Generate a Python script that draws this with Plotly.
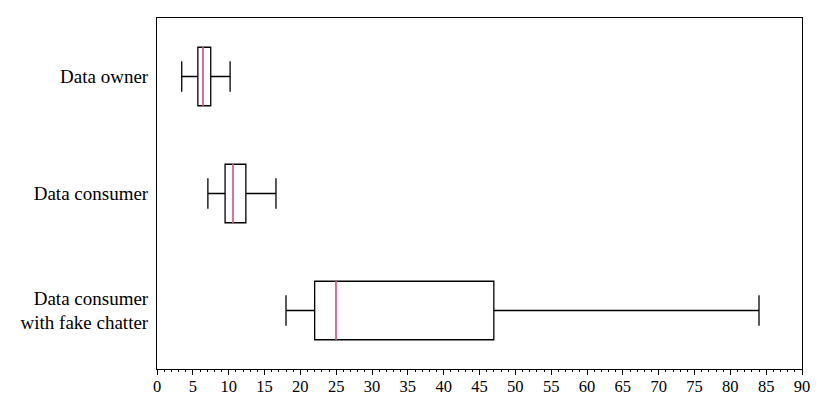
import plotly.graph_objects as go

categories = ["Data owner", "Data consumer", "Data consumer<br>with fake chatter"]
lower_whisker = [3.45, 7.1, 18.0]
q1 = [5.7, 9.5, 22.0]
median = [6.4, 10.6, 25.0]
q3 = [7.5, 12.4, 47.0]
upper_whisker = [10.2, 16.6, 84.0]
x_tick_values = list(range(0, 91, 5))

positions = [2, 1, 0]
box_w = 0.5

fig = go.Figure()
fig.add_trace(go.Box(
    y=positions, q1=q1, median=median, q3=q3,
    lowerfence=lower_whisker, upperfence=upper_whisker,
    orientation="h", width=box_w, whiskerwidth=0.52,
    fillcolor="white", line=dict(color="black", width=1.3),
    boxpoints=False, showlegend=False, hoverinfo="skip",
))
for p, m in zip(positions, median):
    fig.add_trace(go.Scatter(
        x=[m, m], y=[p - box_w / 2, p + box_w / 2], mode="lines",
        line=dict(color="#e0709e", width=2), showlegend=False, hoverinfo="skip",
    ))

fig.update_layout(
    width=830, height=415,
    margin=dict(l=149, r=36, t=10, b=54),
    plot_bgcolor="white", paper_bgcolor="white",
    font=dict(family="Liberation Serif, DejaVu Serif, serif", size=16, color="black"),
    xaxis=dict(
        range=[0, 90], tickvals=x_tick_values, ticks="outside", ticklen=5,
        tickwidth=1, tickcolor="black", showgrid=False, zeroline=False,
        showline=True, linecolor="black", linewidth=1, mirror=True,
        tickfont=dict(size=16.5), ticklabelstandoff=-3,
        minor=dict(dtick=1, ticks="outside", ticklen=2, tickcolor="black", tickwidth=1, showgrid=False),
    ),
    yaxis=dict(
        range=[-0.5, 2.5], tickvals=positions, ticktext=categories,
        ticks="", showgrid=False, zeroline=False,
        showline=True, linecolor="black", linewidth=1, mirror=True,
        tickfont=dict(size=19), ticklabelstandoff=4,
    ),
)
fig.write_html("out.html")
